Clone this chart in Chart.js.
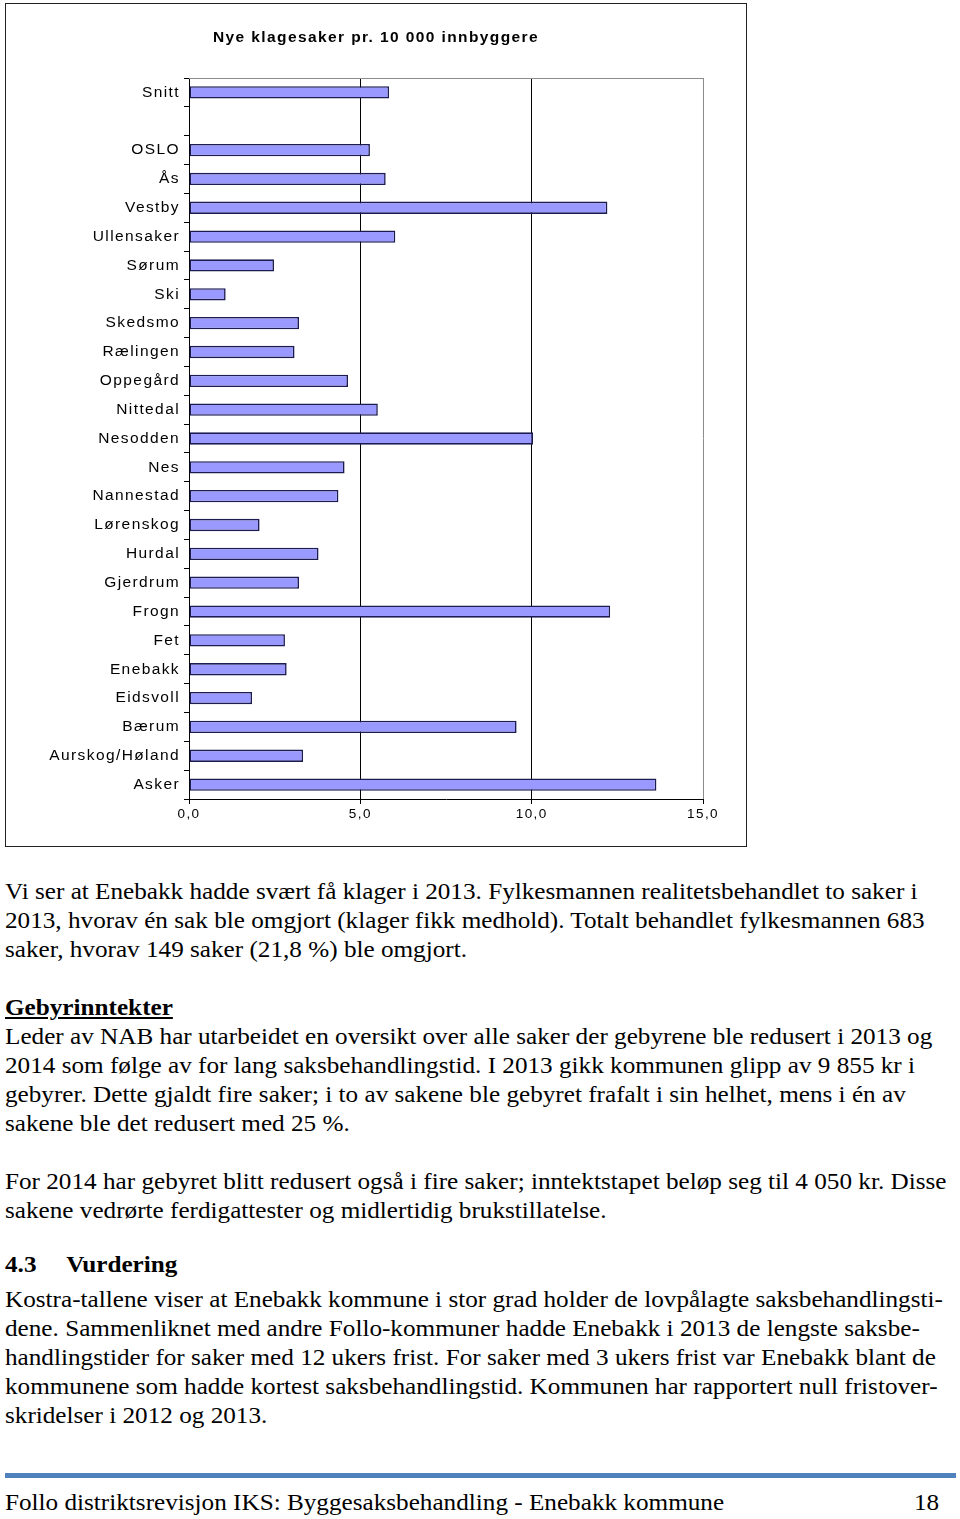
<!DOCTYPE html>
<html>
<head>
<meta charset="utf-8">
<script src="https://cdn.jsdelivr.net/npm/chart.js@4"></script>
<style>
  body{margin:0;background:#fff;width:960px;height:1519px;position:relative;overflow:hidden;
       font-family:"Liberation Serif","Times New Roman",serif;color:#000}
  #box{position:absolute;left:5px;top:3px;width:740px;height:842px;border:1px solid #222}
  .txt{position:absolute;left:5px;font-size:23px;line-height:29px;white-space:nowrap;
       transform:scaleX(1.095);transform-origin:0 0}
  .txt b{font-weight:bold}
  .u{text-decoration:underline}
  #rule{position:absolute;left:5px;top:1473px;width:951px;height:5px;background:#4f81bd}
</style>
</head>
<body>
<div id="box"><canvas id="c" width="740" height="842"></canvas></div>

<div class="txt" style="top:877px">Vi ser at Enebakk hadde svært få klager i 2013. Fylkesmannen realitetsbehandlet to saker i<br>2013, hvorav én sak ble omgjort (klager fikk medhold). Totalt behandlet fylkesmannen 683<br>saker, hvorav 149 saker (21,8 %) ble omgjort.</div>

<div class="txt" style="top:993px"><b class="u">Gebyrinntekter</b><br>Leder av NAB har utarbeidet en oversikt over alle saker der gebyrene ble redusert i 2013 og<br>2014 som følge av for lang saksbehandlingstid. I 2013 gikk kommunen glipp av 9 855 kr i<br>gebyrer. Dette gjaldt fire saker; i to av sakene ble gebyret frafalt i sin helhet, mens i én av<br>sakene ble det redusert med 25 %.</div>

<div class="txt" style="top:1167px">For 2014 har gebyret blitt redusert også i fire saker; inntektstapet beløp seg til 4 050 kr. Disse<br>sakene vedrørte ferdigattester og midlertidig brukstillatelse.</div>

<div class="txt" style="top:1250px"><b>4.3</b><b style="position:absolute;left:56px">Vurdering</b></div>

<div class="txt" style="top:1285px">Kostra-tallene viser at Enebakk kommune i stor grad holder de lovpålagte saksbehandlingsti-<br>dene. Sammenliknet med andre Follo-kommuner hadde Enebakk i 2013 de lengste saksbe-<br>handlingstider for saker med 12 ukers frist. For saker med 3 ukers frist var Enebakk blant de<br>kommunene som hadde kortest saksbehandlingstid. Kommunen har rapportert null fristover-<br>skridelser i 2012 og 2013.</div>

<div id="rule"></div>
<div class="txt" style="top:1488px">Follo distriktsrevisjon IKS: Byggesaksbehandling - Enebakk kommune</div>
<div class="txt" style="top:1488px;left:914px">18</div>

<script>
// nye klagesaker pr. 10 000 innbyggere, 2013
const kommuner = ['Snitt', '', 'OSLO', 'Ås', 'Vestby', 'Ullensaker', 'Sørum', 'Ski', 'Skedsmo',
  'Rælingen', 'Oppegård', 'Nittedal', 'Nesodden', 'Nes', 'Nannestad', 'Lørenskog', 'Hurdal',
  'Gjerdrum', 'Frogn', 'Fet', 'Enebakk', 'Eidsvoll', 'Bærum', 'Aurskog/Høland', 'Asker'];
const klager = [5.84, null, 5.28, 5.74, 12.21, 6.02, 2.48, 1.07, 3.21,
  3.08, 4.64, 5.51, 10.04, 4.54, 4.36, 2.06, 3.78,
  3.21, 12.29, 2.80, 2.85, 1.84, 9.56, 3.33, 13.64];
const xTicks = ['0,0', '5,0', '10,0', '15,0'];
const tittel = 'Nye klagesaker pr. 10 000 innbyggere';

const spacing = {
  id: 'spacing',
  beforeLayout(chart){ chart.ctx.letterSpacing = '1.4px'; },
  beforeDraw(chart){ chart.ctx.letterSpacing = '1.4px'; },
  beforeDatasetsDraw(chart){
    const {ctx, chartArea:a} = chart;
    ctx.save();
    ctx.strokeStyle = '#8c8c8c'; ctx.lineWidth = 1;
    ctx.beginPath(); ctx.moveTo(a.left, a.top + .5); ctx.lineTo(a.right, a.top + .5); ctx.stroke();
    ctx.restore();
  }
};

new Chart(document.getElementById('c'), {
  type: 'bar',
  data: { labels: kommuner, datasets: [{
    data: klager, backgroundColor: '#9999ff', borderColor: '#1c1c50', borderWidth: 1.6,
    borderSkipped: false, categoryPercentage: .45, barPercentage: .95 }] },
  options: {
    indexAxis: 'y', responsive: false, animation: false,
    layout: { padding: { left: 43, right: 43, top: 0, bottom: 0 } },
    plugins: {
      legend: { display: false }, tooltip: { enabled: false },
      title: { display: true, text: tittel, color: '#000',
        font: { family: 'Liberation Sans, Arial', size: 15.5, weight: 'bold' },
        padding: { top: 24, bottom: 31.4 } }
    },
    scales: {
      x: { min: 0, max: 15, ticks: { stepSize: 5, color: '#000', padding: 2,
             font: { family: 'Liberation Sans, Arial', size: 13.5 },
             callback: (v, i) => xTicks[i] },
           grid: { color: c => c.tick && c.tick.value === 15 ? '#8c8c8c' : '#000',
             tickColor: '#000', tickLength: 5 },
           border: { color: '#000' },
           afterFit: s => { s.height = 47; } },
      y: { ticks: { color: '#000', padding: 4, autoSkip: false,
             font: { family: 'Liberation Sans, Arial', size: 15.5 } },
           grid: { drawOnChartArea: false, color: '#000', tickLength: 5, offset: true },
           border: { color: '#000' },
           afterFit: s => { s.width = 140; } }
    }
  },
  plugins: [spacing]
});
</script>
</body>
</html>
